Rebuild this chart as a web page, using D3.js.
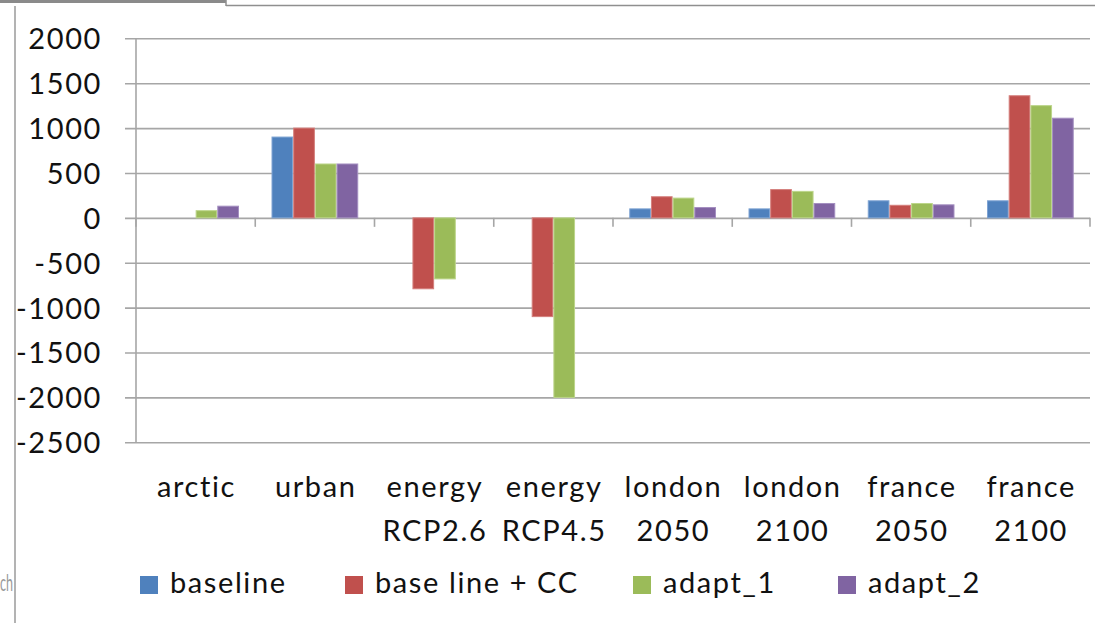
<!DOCTYPE html>
<html>
<head>
<meta charset="utf-8">
<script src="https://cdn.jsdelivr.net/npm/d3@7/dist/d3.min.js"></script>
<style>
  html, body { margin: 0; padding: 0; background: #fff; }
  svg { display: block; }
  text { font-family: Lato, "Open Sans", sans-serif; fill: #111; }
  .lbl { letter-spacing: 1.6px; }
</style>
</head>
<body>
<svg id="chart" width="1095" height="623"></svg>
<script>
// Scenario categories (two-line labels)
const categories = ["arctic", "urban", "energy RCP2.6", "energy RCP4.5", "london 2050", "london 2100", "france 2050", "france 2100"];
const categoryLines = [["arctic"], ["urban"], ["energy", "RCP2.6"], ["energy", "RCP4.5"], ["london", "2050"], ["london", "2100"], ["france", "2050"], ["france", "2100"]];

// Series
const seriesNames = ["baseline", "base line + CC", "adapt_1", "adapt_2"];
const baseline   = [0,   900,    0,     0,   100, 100, 190,  190];
const baselineCC = [0,  1000, -790, -1100,   235, 315, 140, 1360];
const adapt1     = [80,  600, -680, -2000,   220, 295, 160, 1250];
const adapt2     = [130, 600,    0,     0,   115, 160, 145, 1110];
const seriesValues = [baseline, baselineCC, adapt1, adapt2];

// Value axis ticks
const yTicks = [2000, 1500, 1000, 500, 0, -500, -1000, -1500, -2000, -2500];

const colors = ["#4F81BD", "#C0504D", "#9BBB59", "#8064A2"];
const edgeColors = ["#7ea3d3", "#d47f7c", "#bcd58a", "#a48fc0"];

const svg = d3.select("#chart");
const W = 1095, H = 623;
const plot = { left: 136, right: 1090, top: 38.3, bottom: 442.3 };

// Outer frame pieces
svg.append("rect").attr("x", 0).attr("y", 0).attr("width", 226).attr("height", 3).attr("fill", "#8a8a8a");
svg.append("line").attr("x1", 226).attr("x2", W).attr("y1", 5.5).attr("y2", 5.5).attr("stroke", "#8f8f8f").attr("stroke-width", 1.5);
svg.append("line").attr("x1", 226).attr("x2", 226).attr("y1", 0).attr("y2", 6).attr("stroke", "#8f8f8f").attr("stroke-width", 1.5);
svg.append("line").attr("x1", 15).attr("x2", 15).attr("y1", 6).attr("y2", H).attr("stroke", "#9a9a9a").attr("stroke-width", 1.5);

// Small grey text beside the frame on the left
svg.append("text")
  .attr("x", 0).attr("y", 591).attr("font-size", 23)
  .attr("textLength", 13).attr("lengthAdjust", "spacingAndGlyphs")
  .style("fill", "#9a9a9a").text("ch");

const y = d3.scaleLinear().domain([-2500, 2000]).range([plot.bottom, plot.top]);
const x0 = d3.scaleBand().domain(categories).range([plot.left, plot.right]).paddingInner(0).paddingOuter(0);
const x1 = d3.scaleBand().domain(seriesNames).range([0, x0.bandwidth()]).paddingInner(0).paddingOuter(0.75);

// Gridlines with left tick stubs
const gridAxis = d3.axisLeft(y).tickValues(yTicks).tickSize(-(plot.right - 125)).tickFormat("");
const gg = svg.append("g").attr("transform", `translate(125,0)`).call(gridAxis);
gg.select(".domain").remove();
gg.selectAll(".tick line").attr("stroke", "#a6a6a6").attr("stroke-width", 1.6);

// Value axis labels (plain hyphen for negatives)
const yLab = d3.axisLeft(y).tickValues(yTicks).tickSize(0).tickPadding(0).tickFormat(d => String(d));
const yl = svg.append("g").attr("transform", `translate(102,0)`).call(yLab);
yl.select(".domain").remove();
yl.selectAll("text").attr("class", "lbl").attr("font-size", 29).attr("font-family", "Lato, sans-serif").attr("fill", "#111").attr("dy", "0.36em");

// Value axis line
svg.append("line").attr("x1", plot.left).attr("x2", plot.left).attr("y1", plot.top).attr("y2", plot.bottom)
  .attr("stroke", "#a6a6a6").attr("stroke-width", 1.6);

// Bars
const groups = svg.append("g").selectAll("g").data(categories).join("g")
  .attr("transform", d => `translate(${x0(d)},0)`);
groups.selectAll("rect")
  .data((c, ci) => seriesNames.map((s, si) => ({ s, si, v: seriesValues[si][ci] })).filter(d => d.v !== 0))
  .join("rect")
  .attr("x", d => x1(d.s) + 0.5)
  .attr("width", x1.bandwidth() - 1)
  .attr("y", d => y(Math.max(0, d.v)))
  .attr("height", d => Math.abs(y(d.v) - y(0)))
  .attr("fill", d => colors[d.si])
  .attr("stroke", d => edgeColors[d.si])
  .attr("stroke-width", 1);

// Category axis ticks along the zero line
const catBounds = categories.map(c => x0(c)).concat([plot.right]);
svg.append("g").selectAll("line").data(catBounds).join("line")
  .attr("x1", d => d).attr("x2", d => d)
  .attr("y1", y(0)).attr("y2", y(0) + 9)
  .attr("stroke", "#a6a6a6").attr("stroke-width", 1.6);

// Category labels
const catLabels = svg.append("g").selectAll("text").data(categories).join("text")
  .attr("class", "lbl")
  .attr("text-anchor", "middle")
  .attr("font-size", 29)
  .attr("x", d => x0(d) + x0.bandwidth() / 2 + 0.8)
  .attr("y", 497);
catLabels.selectAll("tspan").data((d, i) => categoryLines[i]).join("tspan")
  .attr("x", function () { return d3.select(this.parentNode).attr("x"); })
  .attr("dy", (d, i) => i === 0 ? 0 : 44)
  .text(d => d);

// Legend
const legendX = [140, 345, 633, 838];
const lg = svg.append("g").selectAll("g").data(seriesNames).join("g")
  .attr("transform", (d, i) => `translate(${legendX[i]},576)`);
lg.append("rect").attr("width", 18).attr("height", 18).attr("fill", (d, i) => colors[i]);
lg.append("text").attr("class", "lbl").attr("x", 30).attr("y", 16.5).attr("font-size", 29).text(d => d);
</script>
</body>
</html>
